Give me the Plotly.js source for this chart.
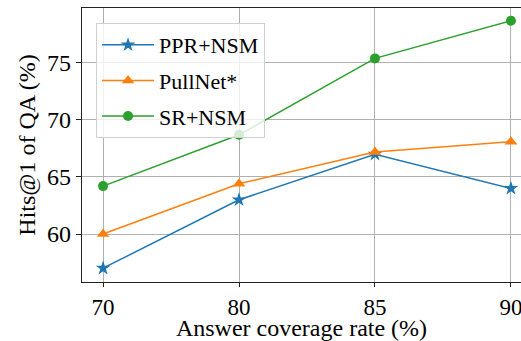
<!DOCTYPE html>
<html><head><meta charset="utf-8">
<script src="https://cdn.plot.ly/plotly-3.0.1.min.js"></script>
<style>html,body{margin:0;padding:0;background:#fff;overflow:hidden}</style>
</head><body><div id="c" style="width:521px;height:341px"></div>
<script>
const categories = ["70", "80", "85", "90"];
const pprNsm = [57.0, 63.0, 67.0, 64.0];
const pullNet = [60.0, 64.4, 67.2, 68.1];
const srNsm = [64.2, 68.7, 75.4, 78.7];
const seriesNames = ["PPR+NSM", "PullNet*", "SR+NSM"];

const font = "Liberation Serif";
const mk = (y, name, color, symbol, size) => ({
  x: categories, y: y, name: name, legendgroup: name, type: "scatter", mode: "lines+markers",
  line: {color: color, width: 1.5},
  marker: {color: color, symbol: symbol, size: size, line: {width: 0}}
});
const data = [
  mk(pprNsm, seriesNames[0], "#1f77b4", "star", 11),
  mk(pullNet, seriesNames[1], "#ff7f0e", "triangle-up", 11),
  mk(srNsm, seriesNames[2], "#2ca02c", "circle", 10)
];
const layout = {
  width: 521, height: 341,
  margin: {l: 82, r: 0, t: 8, b: 59},
  paper_bgcolor: "#fff", plot_bgcolor: "#fff",
  font: {family: font, color: "#000", size: 22},
  showlegend: true,
  legend: {x: 0.032, y: 0.945, xanchor: "left", yanchor: "top",
    bgcolor: "rgba(255,255,255,0.8)", bordercolor: "#d0d0d0", borderwidth: 1,
    font: {family: font, size: 22}, itemwidth: 52, tracegroupgap: 4},
  xaxis: {type: "category", range: [-0.155, 3.074],
    showgrid: true, gridcolor: "#b0b0b0", gridwidth: 1,
    showline: true, linecolor: "#222", linewidth: 1.2, mirror: true,
    ticks: "outside", ticklen: 4, tickcolor: "#222",
    tickfont: {family: font, size: 23},
    title: {text: "Answer coverage rate (%)", font: {family: font, size: 24}, standoff: 6},
    zeroline: false, fixedrange: true},
  yaxis: {range: [55.79, 79.82], tickvals: [60, 65, 70, 75],
    showgrid: true, gridcolor: "#b0b0b0", gridwidth: 1,
    showline: true, linecolor: "#222", linewidth: 1.2,
    ticks: "outside", ticklen: 5, tickcolor: "#222",
    tickfont: {family: font, size: 24},
    title: {text: "Hits@1 of QA (%)", font: {family: font, size: 24}, standoff: 4},
    zeroline: false, fixedrange: true}
};
Plotly.newPlot("c", data, layout, {staticPlot: true, displayModeBar: false});
</script></body></html>
